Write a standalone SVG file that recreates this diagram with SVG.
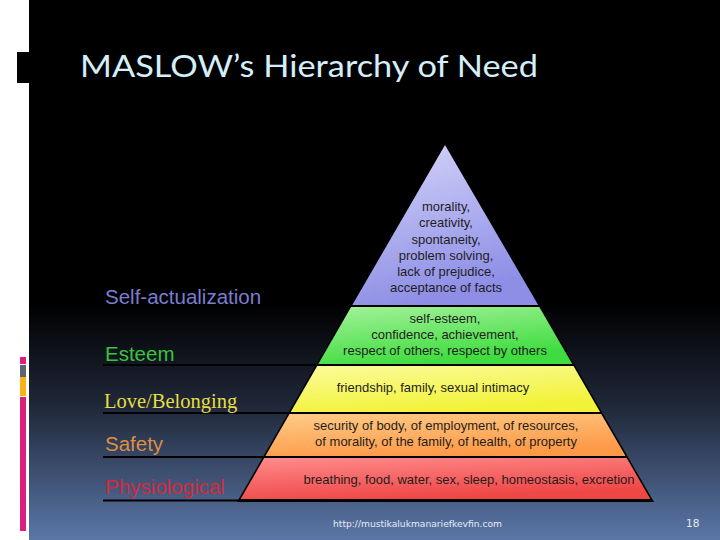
<svg xmlns="http://www.w3.org/2000/svg" width="720" height="540" viewBox="0 0 720 540">
  <defs>
    <linearGradient id="bg" gradientUnits="userSpaceOnUse" x1="0" y1="0" x2="0" y2="540">
      <stop offset="0" stop-color="#000000"/>
      <stop offset="0.56" stop-color="#000000"/>
      <stop offset="0.75" stop-color="#1f2738"/>
      <stop offset="1" stop-color="#5b77a8"/>
    </linearGradient>
    <linearGradient id="gLav" x1="0" y1="0" x2="0.3" y2="1">
      <stop offset="0" stop-color="#d6d6fa"/>
      <stop offset="1" stop-color="#8e8ee6"/>
    </linearGradient>
    <linearGradient id="gGreen" x1="0" y1="0" x2="0.4" y2="1">
      <stop offset="0" stop-color="#a4f29a"/>
      <stop offset="1" stop-color="#3fdc3f"/>
    </linearGradient>
    <linearGradient id="gYellow" x1="0" y1="0" x2="0.4" y2="1">
      <stop offset="0" stop-color="#fbfb9c"/>
      <stop offset="1" stop-color="#f2f238"/>
    </linearGradient>
    <linearGradient id="gOrange" x1="0" y1="0" x2="0.4" y2="1">
      <stop offset="0" stop-color="#ffcc88"/>
      <stop offset="1" stop-color="#fd9a48"/>
    </linearGradient>
    <linearGradient id="gRed" x1="0" y1="0" x2="0.4" y2="1">
      <stop offset="0" stop-color="#ff8c8c"/>
      <stop offset="1" stop-color="#ef4646"/>
    </linearGradient>
  </defs>
  <style>
    .lbl { font-family: "Liberation Sans", Arial, sans-serif; font-size: 20.5px; }
    .ser { font-family: "Liberation Serif", "Times New Roman", serif; font-size: 20.5px; }
    .pt { font-family: "Liberation Sans", Arial, sans-serif; font-size: 13px; fill: #1e1e1e; text-anchor: middle; }
    .rule { stroke: #000000; stroke-width: 2; fill: none; }
  </style>

  <!-- page -->
  <rect x="0" y="0" width="720" height="540" fill="#ffffff"/>
  <rect x="29" y="0" width="691" height="540" fill="url(#bg)"/>
  <rect x="17" y="52" width="12" height="31" fill="#000000"/>
  <g id="sidebars">
    <rect x="20" y="357" width="6" height="7" fill="#dc1e7c"/>
    <rect x="20" y="365" width="6" height="12" fill="#5b6470"/>
    <rect x="20" y="377" width="6" height="19" fill="#f8b418"/>
    <rect x="20" y="397" width="6" height="134" fill="#dc1e7c"/>
  </g>

  <text id="title" x="80" y="77" font-family="Lato, 'Open Sans', sans-serif" font-size="31" fill="#d4eefa" textLength="458" lengthAdjust="spacingAndGlyphs">MASLOW’s Hierarchy of Need</text>

  <!-- separator rules -->
  <g id="connectors">
    <line class="rule" x1="103" y1="306" x2="352" y2="306"/>
    <line class="rule" x1="103" y1="365" x2="318" y2="365"/>
    <line class="rule" x1="103" y1="413" x2="291" y2="413"/>
    <line class="rule" x1="103" y1="457" x2="265" y2="457"/>
    <line class="rule" x1="103" y1="500.5" x2="241" y2="500.5"/>
  </g>

  <!-- pyramid outline -->
  <polygon points="445,141 237,502 654,502" fill="#000000"/>

  <g id="self-actualization">
    <polygon points="445,145 352.3,305 538.2,305" fill="url(#gLav)"/>
    <text class="pt" x="446" y="211">morality,</text>
    <text class="pt" x="446" y="227">creativity,</text>
    <text class="pt" x="446" y="244">spontaneity,</text>
    <text class="pt" x="446" y="260">problem solving,</text>
    <text class="pt" x="446" y="276">lack of prejudice,</text>
    <text class="pt" x="446" y="292">acceptance of facts</text>
  </g>
  <g id="esteem">
    <polygon points="351.1,307 539.3,307 572.3,364 318.3,364" fill="url(#gGreen)"/>
    <text class="pt" x="445" y="323">self-esteem,</text>
    <text class="pt" x="445" y="339">confidence, achievement,</text>
    <text class="pt" x="445" y="355">respect of others, respect by others</text>
  </g>
  <g id="love-belonging">
    <polygon points="317.2,366 573.5,366 600.1,412 290.7,412" fill="url(#gYellow)"/>
    <text class="pt" x="433" y="392">friendship, family, sexual intimacy</text>
  </g>
  <g id="safety">
    <polygon points="289.5,414 601.2,414 625.6,456 265.4,456" fill="url(#gOrange)"/>
    <text class="pt" x="446" y="430">security of body, of employment, of resources,</text>
    <text class="pt" x="446" y="446">of morality, of the family, of health, of property</text>
  </g>
  <g id="physiological">
    <polygon points="264.2,458 626.7,458 650.4,499 240.6,499" fill="url(#gRed)"/>
    <text class="pt" x="469" y="484">breathing, food, water, sex, sleep, homeostasis, excretion</text>
  </g>

  <!-- level labels -->
  <g id="labels">
    <text id="lbl-self" class="lbl" x="105" y="304" fill="#7c7cd0">Self-actualization</text>
    <text id="lbl-esteem" class="lbl" x="105" y="361" fill="#3cc23c">Esteem</text>
    <text id="lbl-love" class="ser" x="104" y="408" fill="#e6de42">Love/Belonging</text>
    <text id="lbl-safety" class="lbl" x="105" y="451" fill="#dc8e44">Safety</text>
    <text id="lbl-phys" class="lbl" x="105" y="494" fill="#d22a3a">Physiological</text>
  </g>

  <text id="footer" x="333" y="527" font-family="'DejaVu Sans', sans-serif" font-size="9" fill="#e6ecf4" textLength="169" lengthAdjust="spacingAndGlyphs">http://mustikalukmanariefkevfin.com</text>
  <text id="page" x="686" y="527" font-family="'DejaVu Sans', sans-serif" font-size="10.5" fill="#e6ecf4">18</text>
</svg>
